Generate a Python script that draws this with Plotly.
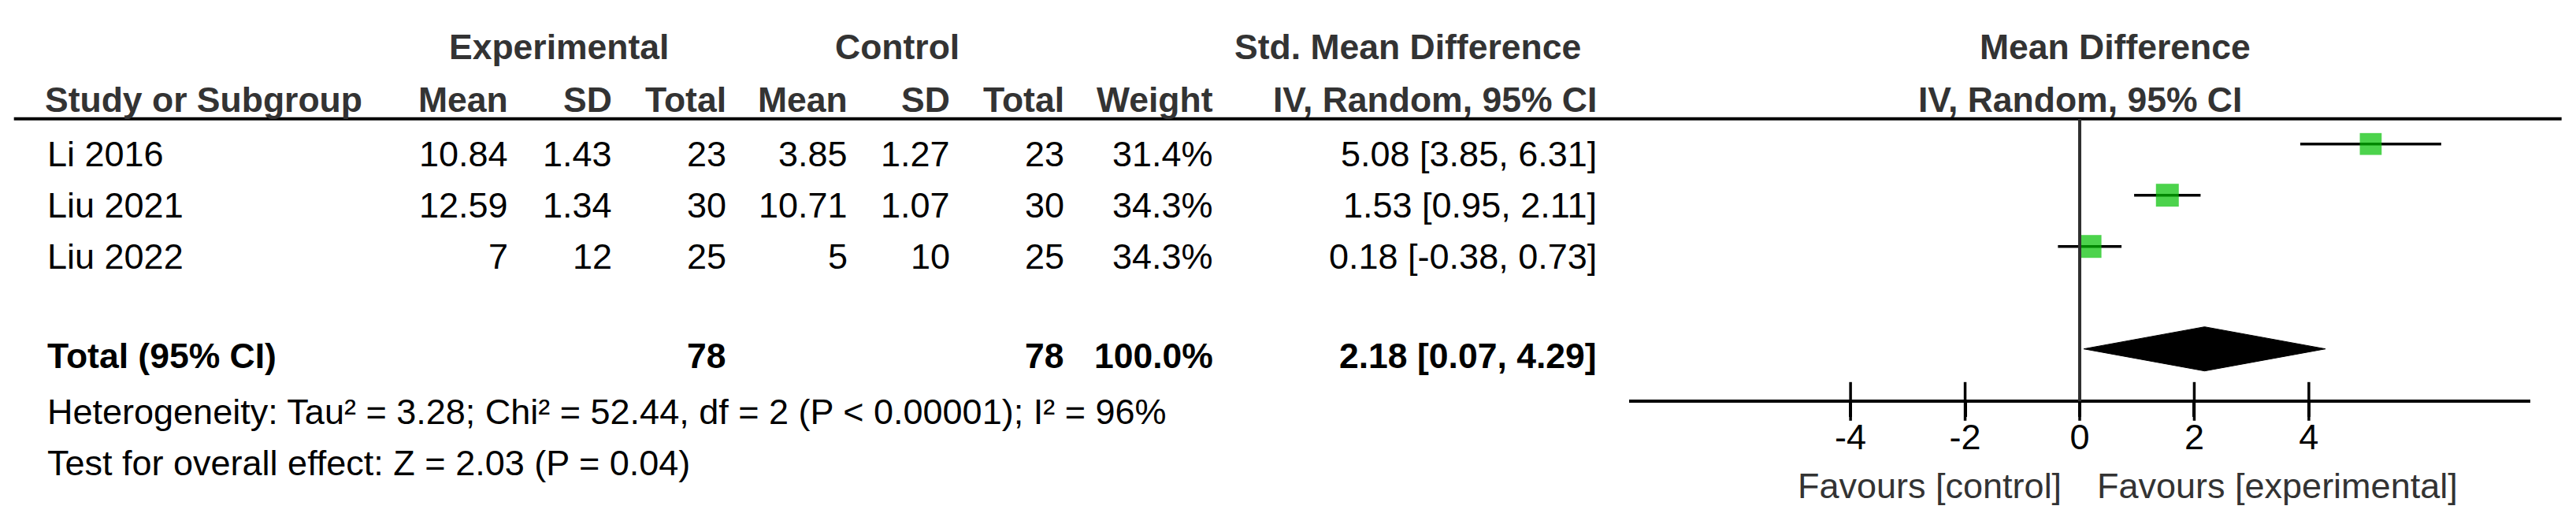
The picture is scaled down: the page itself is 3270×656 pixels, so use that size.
import math
import plotly.graph_objects as go

# ---------------- data ----------------
studies = ["Li 2016", "Liu 2021", "Liu 2022"]
exp_mean = [10.84, 12.59, 7]
exp_sd = [1.43, 1.34, 12]
exp_total = [23, 30, 25]
ctl_mean = [3.85, 10.71, 5]
ctl_sd = [1.27, 1.07, 10]
ctl_total = [23, 30, 25]
weights = [31.4, 34.3, 34.3]
md = [5.08, 1.53, 0.18]
ci_low = [3.85, 0.95, -0.38]
ci_high = [6.31, 2.11, 0.73]

pooled_md = 2.18
pooled_low = 0.07
pooled_high = 4.29
total_weight = 100.0

tick_vals = [-4, -2, 0, 2, 4]
tick_text = ["-4", "-2", "0", "2", "4"]
x_range = [-7.86, 7.86]

col_headers = ["Mean", "SD", "Total", "Mean", "SD", "Total", "Weight", "IV, Random, 95% CI"]
heterogeneity = "Heterogeneity: Tau² = 3.28; Chi² = 52.44, df = 2 (P < 0.00001); I² = 96%"
overall = "Test for overall effect: Z = 2.03 (P = 0.04)"
fav_left = "Favours [control]"
fav_right = "Favours [experimental]"

# ---------------- layout constants (pixels) ----------------
W, H = 3270, 656
FONT = "Liberation Sans, Arial, sans-serif"
ROW0, ROWH = 182.7, 65.0
TEXT_DY = 12.4
Y_HEAD1, Y_HEAD2, Y_RULE = 59.5, 126.0, 150.7
Y_TOTAL_TXT, Y_HET, Y_TEST = 451.7, 522.5, 587.5
Y_AXIS, Y_FAV = 509.3, 616.7
X_LEFT = 57
COL_RIGHT = [647, 779, 924, 1078, 1208, 1353, 1542, 2029]
PLOT_X0, PLOT_X1 = 2068.4, 3211.6
RULE_X0, RULE_X1 = 17.7, 3251.7
DIAMOND_HALF = 28
GREEN = "#00C000"
HEAD_COLOR = "#333333"


def row_y(k):
    return ROW0 + ROWH * k


def fmt(v):
    return f"{v:g}"


def txt(x, y, s, anchor="left", bold=False, color="black", xref="paper", xshift=0):
    return dict(
        x=x / W if xref == "paper" else x, y=y, xref=xref, yref="y", text=s,
        showarrow=False, xanchor=anchor, yanchor="middle", xshift=xshift,
        font=dict(family=FONT, size=44.5 if bold else 45, color=color,
                  weight="bold" if bold else "normal"),
    )


annotations = []
# header row 1
annotations.append(txt(709.2, Y_HEAD1, "Experimental", "center", True, HEAD_COLOR))
annotations.append(txt(1138.8, Y_HEAD1, "Control", "center", True, HEAD_COLOR))
annotations.append(txt(1787, Y_HEAD1, "Std. Mean Difference", "center", True, HEAD_COLOR))
annotations.append(txt(2685, Y_HEAD1, "Mean Difference", "center", True, HEAD_COLOR))
# header row 2
annotations.append(txt(X_LEFT - 2, Y_HEAD2, "Study or Subgroup", "left", True, HEAD_COLOR))
for cx, h in zip(COL_RIGHT, col_headers):
    annotations.append(txt(cx, Y_HEAD2, h, "right", True, HEAD_COLOR))
annotations.append(txt(0, Y_HEAD2, "IV, Random, 95% CI", "center", True, HEAD_COLOR, xref="x"))

# study rows
for k, name in enumerate(studies):
    yk = row_y(k) + TEXT_DY
    cells = [fmt(exp_mean[k]), fmt(exp_sd[k]), str(exp_total[k]),
             fmt(ctl_mean[k]), fmt(ctl_sd[k]), str(ctl_total[k]),
             f"{weights[k]:.1f}%",
             f"{md[k]:.2f} [{ci_low[k]:.2f}, {ci_high[k]:.2f}]"]
    annotations.append(txt(X_LEFT + 1, yk, name))
    for cx, c in zip(COL_RIGHT, cells):
        annotations.append(txt(cx, yk, c, "right"))

# total row
annotations.append(txt(X_LEFT + 1, Y_TOTAL_TXT, "Total (95% CI)", "left", True))
annotations.append(txt(COL_RIGHT[2], Y_TOTAL_TXT, str(sum(exp_total)), "right", True))
annotations.append(txt(COL_RIGHT[5], Y_TOTAL_TXT, str(sum(ctl_total)), "right", True))
annotations.append(txt(COL_RIGHT[6], Y_TOTAL_TXT, f"{total_weight:.1f}%", "right", True))
annotations.append(txt(COL_RIGHT[7], Y_TOTAL_TXT,
                       f"{pooled_md:.2f} [{pooled_low:.2f}, {pooled_high:.2f}]", "right", True))
annotations.append(txt(X_LEFT + 1, Y_HET, heterogeneity))
annotations.append(txt(X_LEFT + 1, Y_TEST, overall))

# favours labels
annotations.append(txt(0, Y_FAV, fav_left, "right", color=HEAD_COLOR, xref="x", xshift=-21))
annotations.append(txt(0, Y_FAV, fav_right, "left", color=HEAD_COLOR, xref="x", xshift=20))

fig = go.Figure()

# pooled diamond
k_total = len(studies) + 1
yt = row_y(k_total)
fig.add_trace(go.Scatter(
    x=[pooled_low, pooled_md, pooled_high, pooled_md, pooled_low],
    y=[yt, yt - DIAMOND_HALF, yt, yt + DIAMOND_HALF, yt],
    mode="lines", fill="toself", fillcolor="black",
    line=dict(color="black", width=1), hoverinfo="skip",
))

# study estimates with CI
wmax = max(weights)
fig.add_trace(go.Scatter(
    x=md, y=[row_y(k) for k in range(len(studies))],
    mode="markers",
    marker=dict(symbol="square", color=GREEN,
                size=[29 * math.sqrt(w / wmax) for w in weights],
                line=dict(width=0)),
    error_x=dict(type="data", symmetric=False,
                 array=[h - m for h, m in zip(ci_high, md)],
                 arrayminus=[m - l for m, l in zip(md, ci_low)],
                 color="black", thickness=3.5, width=0),
))

# tick marks crossing the axis line
fig.add_trace(go.Scatter(
    x=tick_vals, y=[Y_AXIS] * len(tick_vals), mode="markers",
    marker=dict(symbol="line-ns", size=35, line=dict(width=3.5, color="black")),
    cliponaxis=False, hoverinfo="skip",
))

shapes = [
    dict(type="line", xref="paper", yref="y", x0=RULE_X0 / W, x1=RULE_X1 / W,
         y0=Y_RULE, y1=Y_RULE, line=dict(color="black", width=4)),
    dict(type="line", xref="x", yref="y", x0=0, x1=0, y0=Y_RULE, y1=Y_AXIS,
         line=dict(color="#303030", width=4)),
]

fig.update_layout(
    width=W, height=H, margin=dict(l=0, r=0, t=0, b=0, pad=0),
    paper_bgcolor="white", plot_bgcolor="white", showlegend=False,
    annotations=annotations, shapes=shapes,
    xaxis=dict(domain=[PLOT_X0 / W, PLOT_X1 / W], range=x_range,
               anchor="free", position=1 - Y_AXIS / H,
               showline=True, linecolor="black", linewidth=4,
               ticks="outside", ticklen=17.5, tickwidth=3.5, tickcolor="black",
               tickvals=tick_vals, ticktext=tick_text, ticklabelstandoff=-13,
               tickfont=dict(family=FONT, size=45, color="black"),
               showgrid=False, zeroline=False, fixedrange=True),
    yaxis=dict(domain=[0, 1], range=[H, 0], visible=False, showgrid=False,
               zeroline=False, fixedrange=True),
)

fig.write_html("out.html", config={"displayModeBar": False},
               post_script="document.body.style.margin='0';document.body.style.overflow='hidden';")
